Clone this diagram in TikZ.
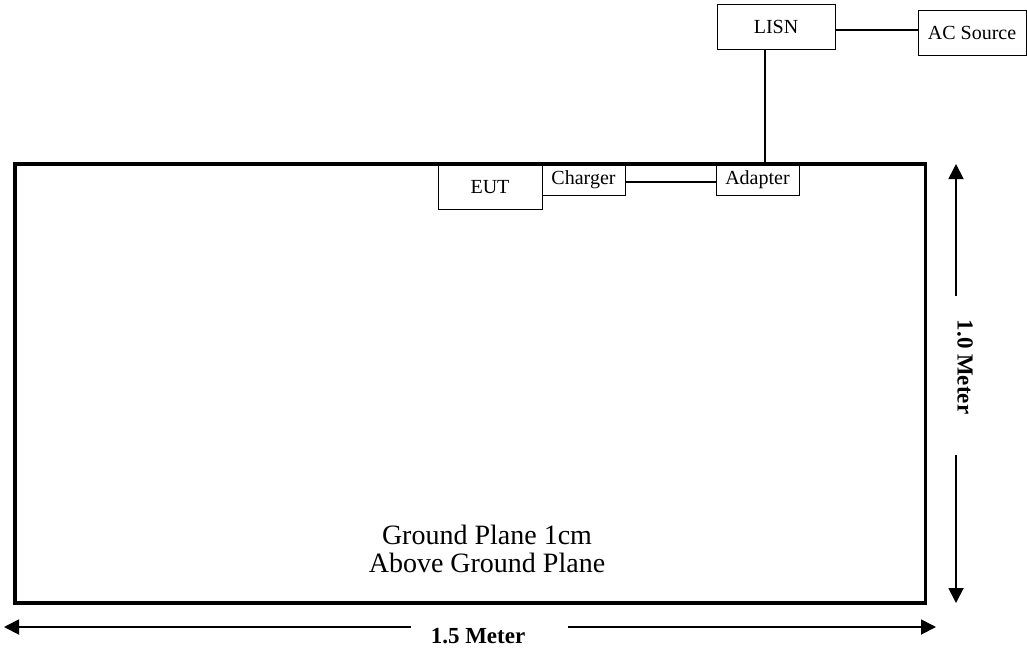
\documentclass[tikz,border=0pt]{standalone}
\usepackage{fontspec}
\setmainfont{Liberation Serif}
\usetikzlibrary{arrows.meta}
\begin{document}
\begin{tikzpicture}[x=1pt,y=-1pt,
  box/.style={draw,line width=1pt,inner sep=0pt,font=\fontsize{20}{24}\selectfont},
  wire/.style={line width=1.3pt},
  dim/.style={line width=1.8pt,-{Triangle[length=15pt,width=15pt]}},
  dimlabel/.style={inner sep=0pt,font=\bfseries\fontsize{23}{26}\selectfont}]
\useasboundingbox (0,0) rectangle (1027,651);
% ground plane
\draw[line width=3.5pt] (15,164) rectangle (925.5,603);
\node[align=center,inner sep=0pt,font=\fontsize{28}{28}\selectfont] (gp) at (487,549) {Ground Plane 1cm\\Above Ground Plane};
% equipment
\node[box,minimum width=118pt,minimum height=45pt] (lisn) at (776,26.5) {LISN};
\node[box,minimum width=108pt,minimum height=45pt] (ac) at (972,32.5) {AC Source};
\node[box,minimum width=104pt,minimum height=45pt] (eut) at (490,187) {EUT};
\node[box,minimum width=83pt,minimum height=31pt] (chg) at (583.5,180) {Charger};
\node[box,minimum width=83pt,minimum height=31pt] (adp) at (757.5,180) {Adapter};
\coordinate (gptop) at (765,164);
% wires
\draw[wire] (lisn.east |- 0,30) -- (ac.west |- 0,30);
\draw[wire] (lisn.south -| gptop) -- (gptop);
\draw[wire] (chg.east |- 0,182) -- (adp.west |- 0,182);
% dimensions
\coordinate (hl0) at (411,627); \coordinate (hl1) at (4,627);
\coordinate (hr0) at (568,627); \coordinate (hr1) at (936,627);
\node[dimlabel] (hlab) at (478,636) {1.5 Meter};
\draw[dim] (hl0) -- (hl1);
\draw[dim] (hr0) -- (hr1);
\coordinate (vt0) at (956,296); \coordinate (vt1) at (956,164);
\coordinate (vb0) at (956,455); \coordinate (vb1) at (956,603);
\node[dimlabel,rotate=-90] (vlab) at (965,367) {1.0 Meter};
\draw[dim] (vt0) -- (vt1);
\draw[dim] (vb0) -- (vb1);
\end{tikzpicture}
\end{document}
